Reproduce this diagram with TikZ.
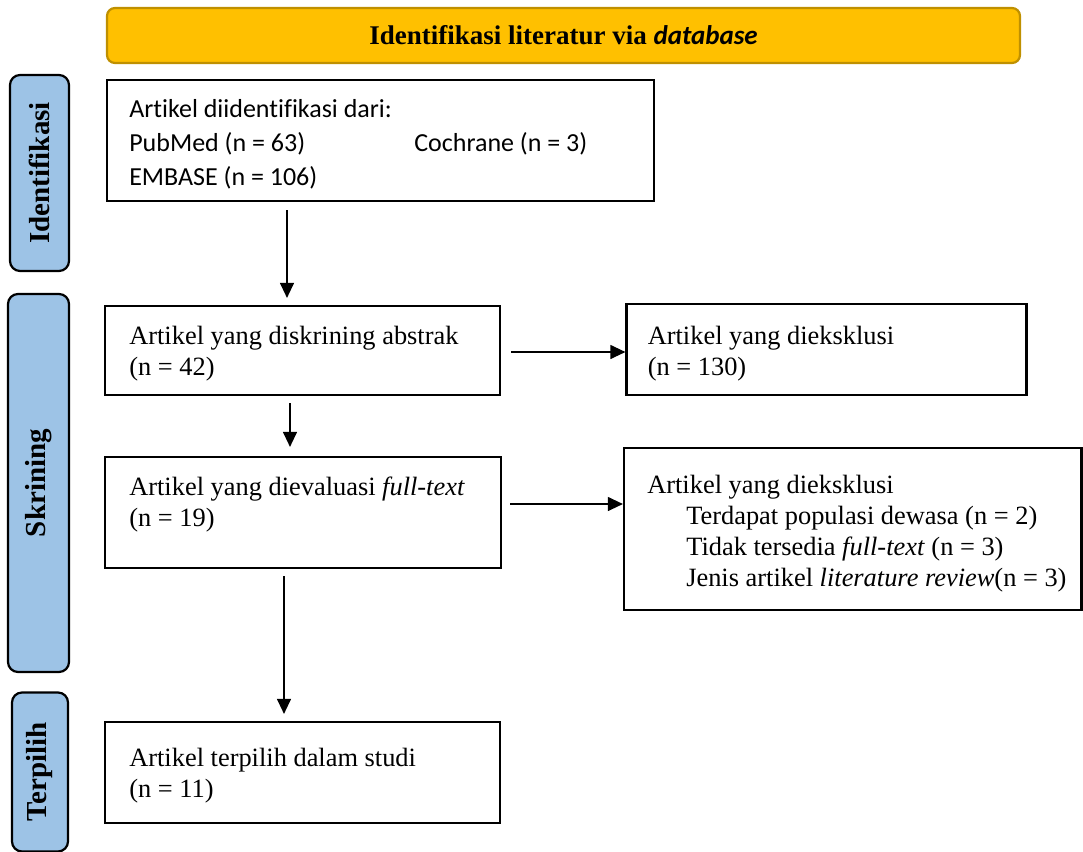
\documentclass[tikz,border=0pt]{standalone}
\usepackage{fontspec}
\setmainfont{Liberation Serif}
\newfontfamily\calibri[Ligatures=NoCommon]{Carlito}
\usetikzlibrary{arrows.meta}
\definecolor{titlefill}{HTML}{FFC000}
\definecolor{titledraw}{HTML}{BF9000}
\definecolor{sidefill}{HTML}{9DC3E6}
\begin{document}
\begin{tikzpicture}[x=0.5pt,y=-0.5pt,
  box/.style={draw=black,line width=1.1pt,rectangle,inner sep=0pt},
  txt/.style={anchor=west,align=left,inner sep=0pt,font=\fontsize{13.2}{15.6}\selectfont},
  sidebar/.style={draw=black,line width=1.1pt,fill=sidefill,rounded corners=5pt,
    font=\fontsize{14.5}{17}\selectfont\bfseries,inner sep=0pt},
  arr/.style={line width=0.6pt,-{Triangle[length=7.5pt,width=7pt]}}]
\useasboundingbox (0,0) rectangle (1083,852);

% title
\node[draw=titledraw,line width=1.1pt,fill=titlefill,rounded corners=4pt,
  minimum width=456.5pt,minimum height=27.5pt,
  font=\fontsize{13.5}{16}\selectfont\bfseries] (title) at (563.5,35.5)
  {Identifikasi literatur via {\calibri\bfseries\itshape database}};

% side bars
\node[sidebar,minimum width=98pt,minimum height=29.5pt,rotate=90] (s1) at (39.5,173) {Identifikasi};
\node[sidebar,minimum width=189pt,minimum height=30.5pt,rotate=90] (s2) at (38.5,483) {Skrining};
\node[sidebar,minimum width=79.5pt,minimum height=28pt,rotate=90] (s3) at (40,772) {Terpilih};

% boxes
\node[box,minimum width=273.5pt,minimum height=60.5pt] (b1) at (380.5,140.5) {};
\node[txt,font=\calibri\fontsize{13}{17}\selectfont] (t1) at ([xshift=11.5pt,yshift=-2pt]b1.west)
  {Artikel diidentifikasi dari:\\
   \makebox[142.5pt][l]{PubMed (n = 63)}Cochrane (n = 3)\\
   EMBASE (n = 106)};

\node[box,minimum width=197.5pt,minimum height=44.5pt] (b2) at (302.5,350.5) {};
\node[txt] (t2) at ([xshift=12.5pt,yshift=-1.75pt]b2.west)
  {Artikel yang diskrining abstrak\\(n = 42)};

\node[box,minimum width=200pt,minimum height=45.5pt] (e1) at (826.5,349.5) {};
\node[txt] (te1) at ([xshift=11pt,yshift=-2pt]e1.west)
  {Artikel yang dieksklusi\\(n = 130)};

\node[box,minimum width=198pt,minimum height=55.5pt] (b3) at (303,512.5) {};
\node[txt] (t3) at ([xshift=12.5pt,yshift=4pt]b3.west)
  {Artikel yang dievaluasi \textit{full-text}\\(n = 19)};

\node[box,minimum width=228.75pt,minimum height=81pt] (e2) at (852.75,529) {};
\node[txt] (te2) at ([xshift=12pt,yshift=-2.25pt]e2.west)
  {Artikel yang dieksklusi\\
   \hspace*{19.5pt}Terdapat populasi dewasa (n = 2)\\
   \hspace*{19.5pt}Tidak tersedia \textit{full-text} (n = 3)\\
   \hspace*{19.5pt}Jenis artikel \textit{literature review}(n = 3)};

\node[box,minimum width=197.5pt,minimum height=50.5pt] (b4) at (302.5,772.5) {};
\node[txt] (t4) at ([xshift=12.5pt,yshift=-1.75pt]b4.west)
  {Artikel terpilih dalam studi\\(n = 11)};

% arrow x positions
\coordinate (x1) at (287,0);
\coordinate (x2) at (290,0);
\coordinate (x3) at (284,0);
\coordinate (y1) at (0,352);
\coordinate (y2) at (0,504);

\draw[arr,shorten <=4pt,shorten >=3.5pt] (b1.south -| x1) -- (b2.north -| x1);
\draw[arr,shorten <=5pt] (b2.east |- y1) -- (e1.west |- y1);
\draw[arr,shorten <=3.5pt,shorten >=4.5pt] (b2.south -| x2) -- (b3.north -| x2);
\draw[arr,shorten <=4pt] (b3.east |- y2) -- (e2.west |- y2);
\draw[arr,shorten <=3.5pt,shorten >=3.5pt] (b3.south -| x3) -- (b4.north -| x3);
\end{tikzpicture}
\end{document}
